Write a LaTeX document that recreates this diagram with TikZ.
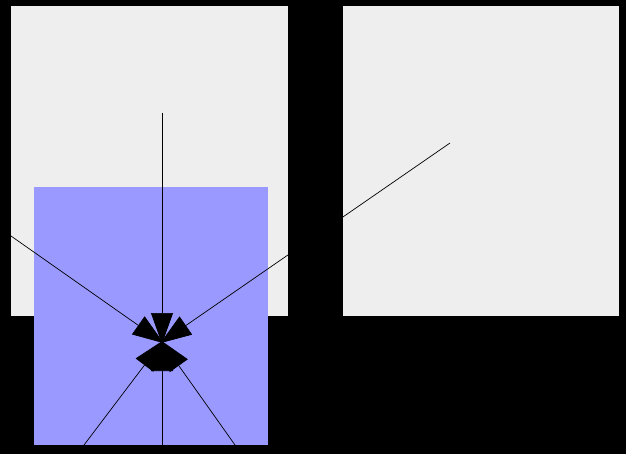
\documentclass[tikz,border=0pt]{standalone}
\usepackage{xcolor}
\usepackage{tikz}
\usetikzlibrary{arrows.meta}
\definecolor{panelgrey}{HTML}{EEEEEE}
\definecolor{overblue}{HTML}{9999FF}

\begin{document}
\begin{tikzpicture}[x=1pt, y=-1pt,
    ray/.style={draw=black, line width=0.7pt, shorten >=-2pt,
                -{Triangle[length=31pt, width=22pt]}}]
  %% canvas: 626 x 454, black ground
  \fill[black] (0,0) rectangle (626,454);
  \useasboundingbox (0,0) rectangle (626,454);

  %% two grey panels
  \fill[panelgrey] (11,6) rectangle (288,316);
  \fill[panelgrey] (343,6) rectangle (619,316);

  %% blue overlay
  \fill[overblue] (34,187) rectangle (268,445);

  %% meeting point and ray ends
  \coordinate (hub) at (162,342);
  \coordinate (west) at (11,236);
  \coordinate (north) at (162,113);
  \coordinate (east) at (450,143);
  \coordinate (swest) at (84,445);
  \coordinate (south) at (162,445);
  \coordinate (seast) at (235,445);

  %% rays into the hub
  \foreach \from in {west, north, east, swest, south, seast} {
    \draw[ray] (\from) -- (hub);
  }
\end{tikzpicture}
\end{document}
